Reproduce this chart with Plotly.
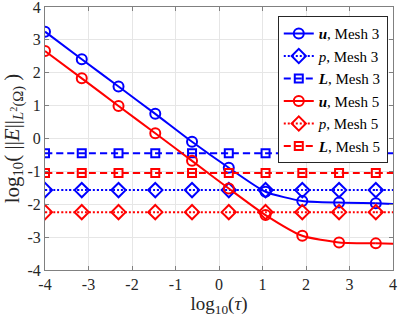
import plotly.graph_objects as go

# log10(tau) sample points and errors
log_tau = [-4.0, -3.155, -2.31, -1.465, -0.62, 0.225, 1.07, 1.915, 2.76, 3.605]
x_end = 4.0

u_mesh3 = [3.25, 2.41, 1.58, 0.75, -0.10, -0.89, -1.62, -1.90, -1.95, -1.97]
p_mesh3 = [-1.57] * 10
L_mesh3 = [-0.45] * 10
u_mesh5 = [2.66, 1.83, 0.99, 0.16, -0.68, -1.52, -2.33, -2.96, -3.16, -3.19]
p_mesh5 = [-2.24] * 10
L_mesh5 = [-1.05] * 10

# tail values at x = 4 (curve continues past the last marker)
u_mesh3_end = -1.99
u_mesh5_end = -3.20

ticks = [-4, -3, -2, -1, 0, 1, 2, 3, 4]

BLUE = "#0000ff"
RED = "#ff0000"
FONT = "Liberation Serif"

series = [
    ("<b><i>u</i></b>, Mesh 3", u_mesh3, u_mesh3_end, BLUE, "solid", "circle-open", 10),
    ("<i>p</i>, Mesh 3", p_mesh3, p_mesh3[-1], BLUE, "2px,2px", "diamond-open", 11),
    ("<b><i>L</i></b>, Mesh 3", L_mesh3, L_mesh3[-1], BLUE, "7px,4px", "square-open", 8),
    ("<b><i>u</i></b>, Mesh 5", u_mesh5, u_mesh5_end, RED, "solid", "circle-open", 10),
    ("<i>p</i>, Mesh 5", p_mesh5, p_mesh5[-1], RED, "2px,2px", "diamond-open", 11),
    ("<b><i>L</i></b>, Mesh 5", L_mesh5, L_mesh5[-1], RED, "7px,4px", "square-open", 8),
]

fig = go.Figure()

for name, ys, y_end, col, dash, sym, msize in series:
    # tail of the line out to the right edge
    fig.add_trace(go.Scatter(
        x=[log_tau[-1], x_end], y=[ys[-1], y_end],
        mode="lines", showlegend=False, hoverinfo="skip",
        line=dict(color=col, width=2, dash=dash),
    ))
    fig.add_trace(go.Scatter(
        x=log_tau, y=ys, name=name,
        mode="lines+markers",
        line=dict(color=col, width=2, dash=dash, shape="spline", smoothing=0.6),
        marker=dict(symbol=sym, size=msize, color=col, line=dict(width=2, color=col)),
    ))

axis_common = dict(
    showgrid=True, gridcolor="#e6e6e6", gridwidth=1,
    showline=True, linecolor="#808080", linewidth=1, mirror="ticks",
    ticks="inside", ticklen=4, tickcolor="#808080",
    zeroline=False, automargin=False, ticklabeloverflow="allow",
    range=[-4, 4], tickvals=ticks, ticktext=[str(t) for t in ticks],
    tickfont=dict(family=FONT, size=16, color="#262626"),
)

fig.update_layout(
    width=399, height=320,
    margin=dict(l=45, r=6, t=7, b=50),
    paper_bgcolor="white", plot_bgcolor="white",
    font=dict(family=FONT, color="#262626"),
    xaxis=dict(title=dict(text="log<sub>10</sub>(<i>τ</i>)", font=dict(size=19), standoff=4),
               **axis_common),
    yaxis=dict(title=dict(text="log<sub>10</sub>( ||<i>E</i>||<sub><i>L</i><sup>2</sup>(Ω)</sub> )",
                          font=dict(size=21), standoff=6),
               **axis_common),
    legend=dict(x=0.985, y=0.965, xanchor="right", yanchor="top",
                bgcolor="white", bordercolor="#262626", borderwidth=1,
                font=dict(family=FONT, size=15, color="#000000"),
                tracegroupgap=0, itemwidth=30),
)

# page body has a default 8px margin; drop it so the figure sits at the corner
fig.write_html("out.html", config={"displayModeBar": False},
               post_script="document.body.style.margin='0';")
